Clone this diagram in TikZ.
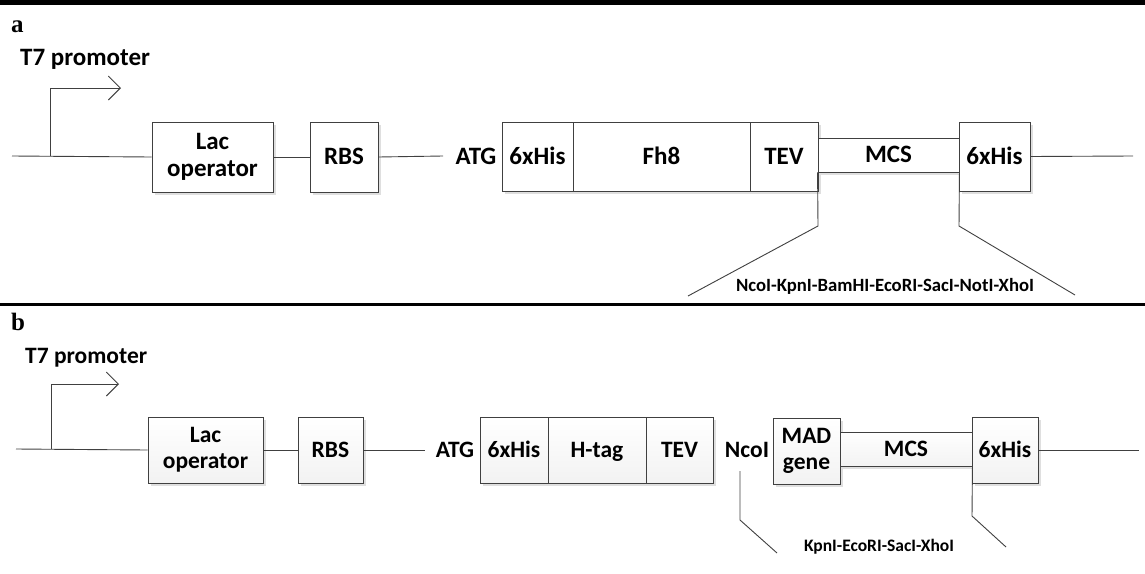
\documentclass[tikz,border=0pt]{standalone}
\usepackage{fontspec}
\setmainfont{Carlito}
\newfontfamily\serifpanel{Liberation Serif}
\usetikzlibrary{arrows.meta,shadows}
\definecolor{ln}{HTML}{404040}
\tikzset{
  part/.style={draw=ln, line width=0.9pt, fill=white, rectangle, inner sep=0pt,
     font=\fontsize{25}{27}\selectfont\bfseries, text height=15.5pt, text depth=0pt,
     drop shadow={shadow xshift=2.5pt, shadow yshift=-3pt, fill=gray!25, opacity=1}},
  twoline/.style={text height=, text depth=, align=center},
  partb/.style={part, top color=white, bottom color=gray!10,
     font=\fontsize{23.5}{26}\selectfont\bfseries, text height=15pt},
  wire/.style={draw=ln, line width=0.9pt},
  lbl/.style={font=\fontsize{25}{27}\selectfont\bfseries, inner sep=0pt, text height=16pt, text depth=0pt},
  lblb/.style={lbl, font=\fontsize{23.5}{26}\selectfont\bfseries, text height=15pt},
  small/.style={font=\fontsize{18.7}{21}\selectfont\bfseries, inner sep=0pt},
  panel/.style={font=\fontsize{25}{28}\selectfont\serifpanel\bfseries, inner sep=0pt, anchor=base west},
  prom/.style={wire, -{Straight Barb[length=12pt,width=24pt,line width=0.9pt]}},
}
\begin{document}
\begin{tikzpicture}[x=1pt,y=-1pt]
\useasboundingbox (0,0) rectangle (1145,573);
% separators
\fill (0,0) rectangle (1145,5);
\fill (0,302.5) rectangle (1145,305.5);

% ---------------- panel a ----------------
\node[panel] (pa) at (11,32) {a};
\node[lbl, anchor=base west] (t7a) at (20,65) {T7 promoter};
\coordinate (bbLa) at (12,156);
\coordinate (pa0) at (50,156);
\coordinate (pa1) at (50,88);
\coordinate (pa2) at (121,88);
\node[part, twoline, minimum width=121pt, minimum height=70pt] (laca) at (212.5,157) {Lac\\operator};
\node[part, minimum width=68pt, minimum height=70pt] (rbsa) at (344,157) {RBS};
\coordinate (atgLa) at (443,156);
\node[lbl] (atga) at (476,156) {ATG};
\node[part, minimum width=71pt, minimum height=69pt] (his1a) at (537.5,156.5) {6xHis};
\node[part, minimum width=177pt, minimum height=69pt] (fh8a) at (661.5,156.5) {Fh8};
\node[part, minimum width=68pt, minimum height=69pt] (teva) at (784,156.5) {TEV};
\node[part, minimum width=141pt, minimum height=34pt] (mcsa) at (888.5,155) {MCS};
\node[part, minimum width=71pt, minimum height=69pt] (his2a) at (994.5,156.5) {6xHis};
\coordinate (bbRa) at (1133,156);
\coordinate (za1) at (818,226);
\coordinate (za2) at (688,296);
\coordinate (za3) at (959,226);
\coordinate (za4) at (1075,295);
\node[small] (sitesa) at (885,286) {NcoI-KpnI-BamHI-EcoRI-SacI-NotI-XhoI};

\draw[wire] (bbLa) -- (laca.west);
\draw[prom] (pa0) -- (pa1) -- (pa2);
\draw[wire] (laca.east) -- (rbsa.west);
\draw[wire] (rbsa.east) -- (atgLa);
\draw[wire] (his2a.east) -- (bbRa);
\draw[wire] (mcsa.south west) -- (za1) -- (za2);
\draw[wire] (mcsa.south east) -- (za3) -- (za4);

% ---------------- panel b ----------------
\node[panel] (pb) at (11,330) {b};
\node[lblb, anchor=base west] (t7b) at (25,363) {T7 promoter};
\coordinate (bbLb) at (16,449);
\coordinate (pb0) at (51,449);
\coordinate (pb1) at (51,384);
\coordinate (pb2) at (119,384);
\node[partb, twoline, minimum width=115pt, minimum height=66pt] (lacb) at (205.5,450) {Lac\\operator};
\node[partb, minimum width=65pt, minimum height=66pt] (rbsb) at (330.5,450) {RBS};
\coordinate (atgLb) at (425,450);
\node[lblb] (atgb) at (455,450) {ATG};
\node[partb, minimum width=68pt, minimum height=66pt] (his1b) at (514,450) {6xHis};
\node[partb, minimum width=98pt, minimum height=66pt] (htagb) at (597,450) {H-tag};
\node[partb, minimum width=67pt, minimum height=66pt] (tevb) at (679.5,450) {TEV};
\node[lblb] (ncob) at (747,450) {NcoI};
\node[partb, twoline, minimum width=67pt, minimum height=66pt] (madb) at (806.5,451) {MAD\\gene};
\node[partb, minimum width=132pt, minimum height=34pt] (mcsb) at (906,449) {MCS};
\node[partb, minimum width=66pt, minimum height=66pt] (his2b) at (1005,450) {6xHis};
\coordinate (bbRb) at (1139,450);
\coordinate (nc0) at (740,471);
\coordinate (nc1) at (740,520);
\coordinate (nc2) at (777,553);
\coordinate (zb1) at (972,516);
\coordinate (zb2) at (1006,547);
\node[small, font=\fontsize{17.5}{20}\selectfont\bfseries] (sitesb) at (879,547) {KpnI-EcoRI-SacI-XhoI};

\draw[wire] (bbLb) -- (lacb.west);
\draw[prom] (pb0) -- (pb1) -- (pb2);
\draw[wire] (lacb.east) -- (rbsb.west);
\draw[wire] (rbsb.east) -- (atgLb);
\draw[wire] (his2b.east) -- (bbRb);
\draw[wire] (nc0) -- (nc1) -- (nc2);
\draw[wire] (mcsb.south east) -- (zb1) -- (zb2);
\end{tikzpicture}
\end{document}
